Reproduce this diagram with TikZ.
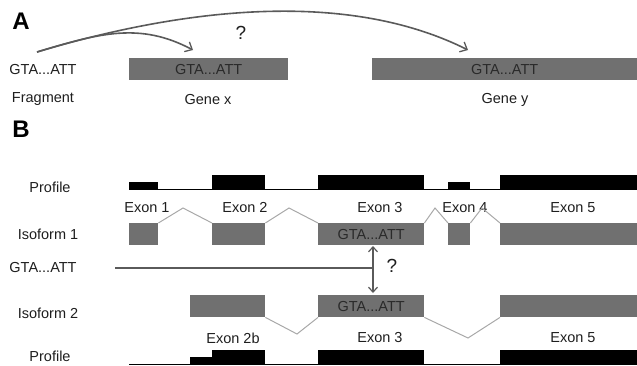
\documentclass[tikz,border=0pt]{standalone}
\usepackage{fontspec}
\setmainfont{Liberation Sans}
\usetikzlibrary{arrows.meta}
\definecolor{boxgray}{HTML}{707070}
\definecolor{txt}{HTML}{1E1E1E}
\definecolor{boxtxt}{HTML}{2A2A2A}
\definecolor{arrgray}{HTML}{5A5A5A}
\definecolor{intron}{HTML}{A8A8A8}
\begin{document}
\begin{tikzpicture}[x=1pt,y=-1pt,
  lbl/.style={font=\fontsize{14.5}{16}\selectfont, text=txt, inner sep=0},
  panel/.style={font=\fontsize{24}{26}\selectfont\bfseries, text=black, inner sep=0},
  qmark/.style={font=\fontsize{19}{21}\selectfont, text=txt, inner sep=0},
  exonbox/.style={fill=boxgray, inner sep=0, anchor=north west, minimum height=22pt,
     font=\fontsize{14.5}{16}\selectfont, text=boxtxt},
  profblk/.style={fill=black},
  profline/.style={draw=black, line width=0.9pt},
  intronln/.style={draw=intron, line width=1pt},
  conn/.style={draw=arrgray, line width=1.6pt},
  barb/.style={-{Straight Barb[length=6pt,width=11pt,line width=1.3pt]}},
  dbarb/.style={{Straight Barb[length=5pt,width=9pt,line width=1.2pt]}-{Straight Barb[length=5pt,width=9pt,line width=1.2pt]}}
]
\useasboundingbox (0,0) rectangle (637,365);

% ---------- Panel A ----------
\node[panel] (pA) at (21,21) {A};
\node[lbl] (frag) at (43,70) {GTA...ATT};
\node[lbl] (fraglbl) at (43,99) {Fragment};
\node[exonbox, minimum width=159pt] (gx) at (129,58) {GTA...ATT};
\node[exonbox, minimum width=265pt] (gy) at (372,58) {GTA...ATT};
\node[lbl] (gxl) at (208,100) {Gene x};
\node[lbl] (gyl) at (505,100) {Gene y};
\node[qmark] (qA) at (241,33) {?};
\coordinate (src) at (37,52);
\coordinate (tx) at (193,50);
\coordinate (ty) at (468,50);
\draw[conn, barb] (src) .. controls (100,33) and (140,22) .. (tx);
\draw[conn, barb] (src) .. controls (170,12) and (340,-14) .. (ty);

% ---------- Panel B ----------
\node[panel] (pB) at (21,129) {B};

% Profile top
\node[lbl] (prof1) at (50,187) {Profile};
\draw[profline] (129,189) -- (637,189);
\fill[profblk] (129,182) rectangle (158,189);
\fill[profblk] (212,175) rectangle (265,189);
\fill[profblk] (318,175) rectangle (424,189);
\fill[profblk] (448,182) rectangle (470,189);
\fill[profblk] (500,175) rectangle (637,189);

% Exon labels top
\node[lbl] (x1) at (147,208) {Exon 1};
\node[lbl] (x2) at (245,208) {Exon 2};
\node[lbl] (x3) at (380,208) {Exon 3};
\node[lbl] (x4) at (465,208) {Exon 4};
\node[lbl] (x5) at (573,208) {Exon 5};

% Isoform 1
\node[lbl] (iso1) at (48,234) {Isoform 1};
\node[exonbox, minimum width=29pt] (a1) at (129,223) {};
\node[exonbox, minimum width=53pt] (a2) at (212,223) {};
\node[exonbox, minimum width=106pt] (a3) at (318,223) {GTA...ATT};
\node[exonbox, minimum width=22pt] (a4) at (448,223) {};
\node[exonbox, minimum width=137pt] (a5) at (500,223) {};
\coordinate (p1) at (183,208);
\coordinate (p2) at (289,208);
\coordinate (p3) at (435,208);
\coordinate (p4) at (482,208);
\draw[intronln] (a1.north east) -- (p1) -- (a2.north west);
\draw[intronln] (a2.north east) -- (p2) -- (a3.north west);
\draw[intronln] (a3.north east) -- (p3) -- (a4.north west);
\draw[intronln] (a4.north east) -- (p4) -- (a5.north west);

% Fragment line and question
\node[lbl] (frag2) at (43,268) {GTA...ATT};
\coordinate (ls) at (115,268);
\coordinate (lj) at (373,268);
\draw[conn] (ls) -- (lj);
\coordinate (up) at (373,246);
\coordinate (dn) at (373,293);
\draw[conn, line width=1.3pt, dbarb] (up) -- (dn);
\node[qmark] (qB) at (392,266) {?};

% Isoform 2
\node[lbl] (iso2) at (48,313) {Isoform 2};
\node[exonbox, minimum width=75pt] (b2) at (190,295) {};
\node[exonbox, minimum width=106pt] (b3) at (318,295) {GTA...ATT};
\node[exonbox, minimum width=137pt] (b5) at (500,295) {};
\coordinate (q1) at (297,334);
\coordinate (q2) at (468,338);
\draw[intronln] (b2.south east) -- (q1) -- (b3.south west);
\draw[intronln] (b3.south east) -- (q2) -- (b5.south west);

% Exon labels bottom
\node[lbl] (y2) at (233,338) {Exon 2b};
\node[lbl] (y3) at (380,338) {Exon 3};
\node[lbl] (y5) at (573,338) {Exon 5};

% Profile bottom
\node[lbl] (prof2) at (50,356) {Profile};
\draw[profline] (129,364.5) -- (637,364.5);
\fill[profblk] (190,357) rectangle (212,365);
\fill[profblk] (212,350) rectangle (265,365);
\fill[profblk] (318,350) rectangle (424,365);
\fill[profblk] (500,350) rectangle (637,365);
\end{tikzpicture}
\end{document}
